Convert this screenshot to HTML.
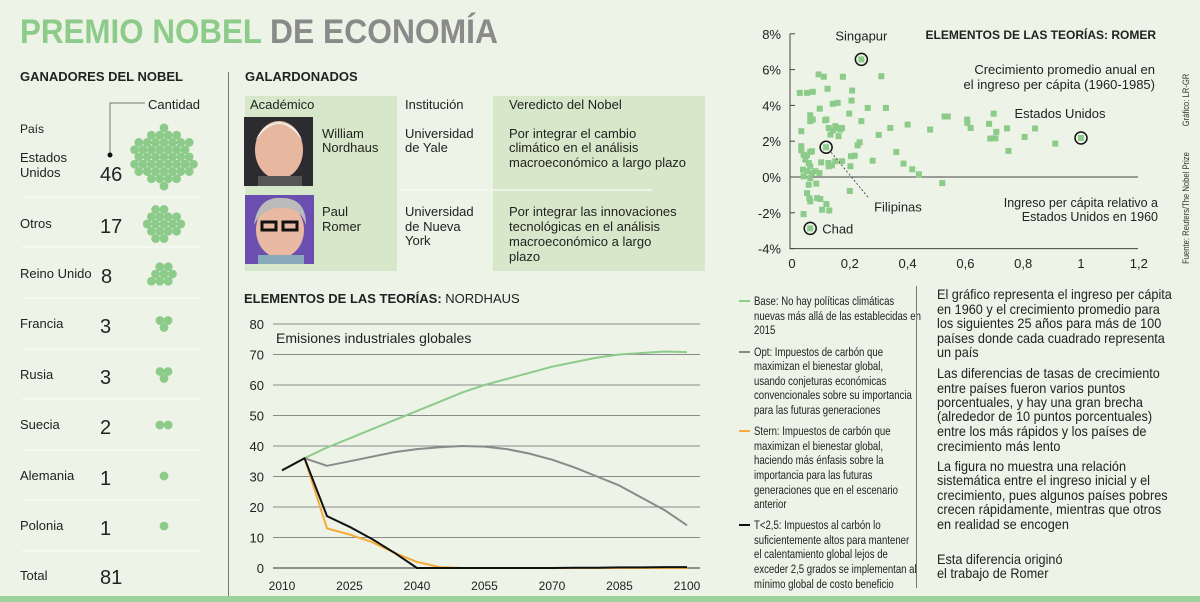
<!DOCTYPE html>
<html><head><meta charset="utf-8"><style>
html,body{margin:0;padding:0;background:#edf3e6;}
svg{display:block;font-family:"Liberation Sans",sans-serif;}
</style></head><body>
<svg id="root" width="1200" height="602" viewBox="0 0 1200 602" xmlns="http://www.w3.org/2000/svg">
<rect x="0" y="0" width="1200" height="602" fill="#edf3e6"/>
<g>
<text x="20" y="43" font-size="34" font-weight="bold" fill="#8dcb8b" textLength="242" lengthAdjust="spacingAndGlyphs">PREMIO NOBEL</text>
<text x="270" y="43" font-size="34" font-weight="bold" fill="#8a8a8a" textLength="228" lengthAdjust="spacingAndGlyphs">DE ECONOMÍA</text>
</g>
<rect x="0" y="596" width="1200" height="6" fill="#9ed29b"/>
<line x1="228.5" y1="72" x2="228.5" y2="596" stroke="#777" stroke-width="1"/>

<g id="winners">
<text x="20" y="81" font-size="13" font-weight="bold" fill="#222">GANADORES DEL NOBEL</text>
<text x="148" y="109" font-size="13" fill="#222">Cantidad</text>
<polyline points="110,155 110,103 145,103" fill="none" stroke="#777" stroke-width="1"/>
<circle cx="110" cy="155" r="2.5" fill="#111"/>
<text x="20" y="133" font-size="12" fill="#222">País</text>
</g>

<g>
<text x="245" y="81" font-size="13" font-weight="bold" fill="#222">GALARDONADOS</text>
<rect x="245" y="96" width="152" height="175" fill="#d6e8c9"/>
<rect x="493" y="96" width="212" height="175" fill="#d6e8c9"/>
<line x1="400" y1="190" x2="652" y2="190" stroke="#f4f8ef" stroke-width="1.5"/>
<g font-size="13" fill="#222">
<text x="250" y="109">Académico</text><text x="405" y="109">Institución</text><text x="509" y="109">Veredicto del Nobel</text>
<text x="322" y="138">William</text><text x="322" y="152">Nordhaus</text>
<text x="405" y="138">Universidad</text><text x="405" y="152">de Yale</text>
<text x="509" y="138">Por integrar el cambio</text><text x="509" y="152">climático en el análisis</text><text x="509" y="167">macroeconómico a largo plazo</text>
<text x="322" y="216">Paul</text><text x="322" y="231">Romer</text>
<text x="405" y="216">Universidad</text><text x="405" y="231">de Nueva</text><text x="405" y="245">York</text>
<text x="509" y="216">Por integrar las innovaciones</text><text x="509" y="231">tecnológicas en el análisis</text><text x="509" y="246">macroeconómico a largo</text><text x="509" y="261">plazo</text>
</g>
<g>
<rect x="244" y="117" width="69" height="69" fill="#2b2b30"/>
<ellipse cx="279" cy="150" rx="24" ry="29" fill="#e7b7a0"/>
<path d="M256 140 Q279 108 302 140 Q296 124 279 122 Q262 124 256 140Z" fill="#eeeeea"/>
<rect x="258" y="176" width="44" height="10" fill="#555"/>
</g>
<g>
<rect x="245" y="195" width="69" height="69" fill="#6a4fb0"/>
<ellipse cx="280" cy="230" rx="24" ry="28" fill="#e9b9a3"/>
<path d="M254 225 Q258 196 282 198 Q306 198 306 225 Q300 206 280 208 Q262 208 254 225Z" fill="#bbb"/>
<rect x="262" y="222" width="14" height="8" fill="none" stroke="#111" stroke-width="3"/>
<rect x="283" y="222" width="14" height="8" fill="none" stroke="#111" stroke-width="3"/>
<rect x="258" y="255" width="46" height="9" fill="#8ab"/>
</g>
</g>

<text x="244" y="303" font-size="13" font-weight="bold" fill="#222">ELEMENTOS DE LAS TEORÍAS: <tspan font-weight="normal">NORDHAUS</tspan></text>
<g id="lineChart"></g>
<text x="276" y="343" font-size="14" fill="#222">Emisiones industriales globales</text>

<g>
<line x1="739" y1="301" x2="750" y2="301" stroke="#8dcb8b" stroke-width="2"/>
<line x1="739" y1="352" x2="750" y2="352" stroke="#8a8a8a" stroke-width="2"/>
<line x1="739" y1="431" x2="750" y2="431" stroke="#f5ac3c" stroke-width="2"/>
<line x1="739" y1="525" x2="750" y2="525" stroke="#111" stroke-width="2"/>
<g transform="translate(754,0) scale(0.8,1)" font-size="12" fill="#222">
<text x="0" y="305">Base: No hay políticas climáticas</text><text x="0" y="320">nuevas más allá de las establecidas en</text><text x="0" y="334">2015</text>
<text x="0" y="356">Opt: Impuestos de carbón que</text><text x="0" y="370">maximizan el bienestar global,</text><text x="0" y="385">usando conjeturas económicas</text><text x="0" y="399">convencionales sobre su importancia</text><text x="0" y="414">para las futuras generaciones</text>
<text x="0" y="435">Stern: Impuestos de carbón que</text><text x="0" y="450">maximizan el bienestar global,</text><text x="0" y="464">haciendo más énfasis sobre la</text><text x="0" y="479">importancia para las futuras</text><text x="0" y="494">generaciones que en el escenario</text><text x="0" y="508">anterior</text>
<text x="0" y="529">T&lt;2,5: Impuestos al carbón lo</text><text x="0" y="544">suficientemente altos para mantener</text><text x="0" y="558">el calentamiento global lejos de</text><text x="0" y="573">exceder 2,5 grados se implementan al</text><text x="0" y="588">mínimo global de costo beneficio</text>
</g>
</g>
<line x1="916.5" y1="286" x2="916.5" y2="588" stroke="#777" stroke-width="1"/>

<g transform="translate(937,0) scale(0.92,1)" font-size="13.8" fill="#222">
<text x="0" y="299">El gráfico representa el ingreso per cápita</text><text x="0" y="314">en 1960 y el crecimiento promedio para</text><text x="0" y="328">los siguientes 25 años para más de 100</text><text x="0" y="343">países donde cada cuadrado representa</text><text x="0" y="357">un país</text>
<text x="0" y="378">Las diferencias de tasas de crecimiento</text><text x="0" y="393">entre países fueron varios puntos</text><text x="0" y="407">porcentuales, y hay una gran brecha</text><text x="0" y="421">(alrededor de 10 puntos porcentuales)</text><text x="0" y="436">entre los más rápidos y los países de</text><text x="0" y="451">crecimiento más lento</text>
<text x="0" y="471">La figura no muestra una relación</text><text x="0" y="485">sistemática entre el ingreso inicial y el</text><text x="0" y="500">crecimiento, pues algunos países pobres</text><text x="0" y="514">crecen rápidamente, mientras que otros</text><text x="0" y="529">en realidad se encogen</text>
<text x="0" y="564">Esta diferencia originó</text><text x="0" y="578">el trabajo de Romer</text>
</g>

<g id="scatter"></g>
<text x="1156" y="39" font-size="12" font-weight="bold" fill="#222" text-anchor="end">ELEMENTOS DE LAS TEORÍAS: ROMER</text>
<text x="1155" y="74" font-size="13" fill="#222" text-anchor="end">Crecimiento promedio anual en</text>
<text x="1155" y="89" font-size="13" fill="#222" text-anchor="end">el ingreso per cápita (1960-1985)</text>
<text x="1158" y="207" font-size="12.5" fill="#222" text-anchor="end">Ingreso per cápita relativo a</text>
<text x="1158" y="221" font-size="12.5" fill="#222" text-anchor="end">Estados Unidos en 1960</text>
<text transform="translate(1189,100) rotate(-90) scale(0.85,1)" font-size="9" fill="#333" text-anchor="middle">Gráfico: LR-GR</text>
<text transform="translate(1189,208) rotate(-90) scale(0.85,1)" font-size="9" fill="#333" text-anchor="middle">Fuente: Reuters/The Nobel Prize</text>

<script>
const countries = ["Estados Unidos","Otros","Reino Unido","Francia","Rusia","Suecia","Alemania","Polonia"];
const counts = [46,17,8,3,3,2,1,1];
const totalCount = 81;

const years = [2010,2015,2020,2025,2030,2035,2040,2045,2050,2055,2060,2065,2070,2075,2080,2085,2090,2095,2100];
const baseSeries = [null,36,39.5,42.5,45.5,48.5,51.5,54.5,57.5,60,62,64,66,67.5,69,70,70.5,71,70.8];
const optSeries = [null,36,33.5,35,36.5,38,39,39.6,40,39.8,39,37.5,35.5,33,30,27,23,19,14];
const sternSeries = [32,36,13,11,8.5,5,2,0.3,0,0,0,0,0,0,0,0,0,0,0];
const t25Series = [32,36,17,13.5,9.5,5,0,0,0,0,0,0,0,0.1,0.1,0.2,0.2,0.3,0.3];
const lineYTicks = [0,10,20,30,40,50,60,70,80];
const lineXTicks = [2010,2025,2040,2055,2070,2085,2100];

const incomeRel = [.027,.052,.072,.092,.110,.176,.309,.123,.208,.141,.158,.096,.115,.198,.206,.262,.325,.032,.063,.063,.072,.032,.032,.040,.052,.063,.069,.046,.058,.063,.038,.052,.069,.081,.095,.040,.063,.058,.084,.052,.060,.063,.087,.098,.040,.104,.119,.129,.119,.127,.133,.142,.150,.158,.161,.167,.173,.126,.101,.127,.138,.150,.173,.202,.204,.217,.227,.234,.240,.200,.279,.300,.340,.361,.386,.400,.416,.439,.478,.520,.528,.539,.606,.607,.618,.682,.686,.698,.704,.707,.744,.749,.805,.841,.911];
const growthPct = [4.70,4.70,4.76,5.73,5.60,5.60,5.63,4.93,4.83,4.09,4.14,3.82,3.17,3.54,4.27,3.86,3.86,2.56,3.45,3.12,3.21,1.72,1.49,1.25,1.21,1.40,1.44,.97,.78,.60,.41,.32,.22,.32,.22,.04,-.06,-.43,-.37,-.90,-1.18,-1.36,-1.18,-1.23,-2.07,-1.83,-1.51,-1.87,3.21,2.74,2.37,2.61,2.84,2.74,2.28,2.65,2.74,.78,.82,.60,.65,.88,.88,.60,1.16,1.19,1.77,1.94,3.12,-.78,.91,2.35,2.74,1.40,.75,2.93,.43,.15,2.65,-.34,3.38,3.38,3.21,3.02,2.74,2.97,2.15,3.54,2.16,2.52,2.72,1.46,2.24,2.71,1.87];
const highlightNames = ["Singapur","Estados Unidos","Filipinas","Chad"];
const highlightIncome = [.240,1.0,.118,.063];
const highlightGrowth = [6.57,2.18,1.66,-2.87];
const scatterYTicks = [-4,-2,0,2,4,6,8];
const scatterXTicks = [0,0.2,0.4,0.6,0.8,1,1.2];

const NS = "http://www.w3.org/2000/svg";
function mk(parent, tag, attrs, txt){
  const e = document.createElementNS(NS, tag);
  for (const k in attrs) e.setAttribute(k, attrs[k]);
  if (txt !== undefined) e.textContent = txt;
  parent.appendChild(e);
  return e;
}

(function(){
  const g = document.getElementById('winners');
  const rowY = [165,224,274,324,375,425,476,526];
  const divY = [197,247,298,349,399,450,500,551];
  const green = "#8dcb8b";
  countries.forEach((c,i)=>{
    const y = rowY[i];
    if (c === "Estados Unidos"){
      const a = mk(g,'text',{x:20,y:y-3,'font-size':13,fill:'#222'},'Estados');
      
      
      const b = mk(g,'text',{x:20,y:y+12,'font-size':13,fill:'#222'},'Unidos');
      
      
    } else {
      const a = mk(g,'text',{x:20,y:y+4,'font-size':13,fill:'#222'},c);
      
      
    }
    const n = mk(g,'text',{x:(i===2?101:100),y:y+(i===0?16:9),'font-size':20,fill:'#222'},String(counts[i]));
    
    
    const ln = mk(g,'line',{x1:22,y1:divY[i],x2:201,y2:divY[i],stroke:'#f7faf3','stroke-width':1.5});
    
    
    const cx = 164, cy = (i===0? y-8 : y);
    const s = 8.4, pts=[];
    for (let r=-6;r<=6;r++) for (let q=-6;q<=6;q++){
      const px = (q + r/2)*s, py = r*s*0.866;
      pts.push([px,py,px*px+py*py*1.02+q*0.01+r*0.001]);
    }
    pts.sort((a,b)=>a[2]-b[2]);
    let sel = pts.slice(0,counts[i]);
    if (counts[i]===2) sel=[[-4.2,0],[4.2,0]];
    if (counts[i]===3) sel=[[-4,-3.5],[4,-3.5],[0,3.5]];
    if (counts[i]===1) sel=[[0,0]];
    const cg = mk(g,'g',{});
    
    
    sel.forEach(p=>{
      const d = mk(cg,'circle',{cx:cx+p[0],cy:cy+p[1],r:4.4,fill:green});
      
      
    });
  });
  const t = mk(g,'text',{x:20,y:580,'font-size':13,fill:'#222'},'Total');
  
  
  const tn = mk(g,'text',{x:100,y:584,'font-size':20,fill:'#222'},String(totalCount));
  
  
})();

(function(){
  const g = document.getElementById('lineChart');
  const xL = yr => 282 + (yr-2010)*4.5;
  const yL = v => 568 - v*3.05;
  lineYTicks.forEach(v=>{
    const l = mk(g,'line',{x1:273,y1:yL(v),x2:700,y2:yL(v),stroke:v===0?'#555':'#8a8a8a','stroke-width':v===0?1.2:1});
    
    
    const t = mk(g,'text',{x:264,y:yL(v)+5,'font-size':13,fill:'#222','text-anchor':'end'},String(v));
    
    
  });
  lineXTicks.forEach(yr=>{
    const t = mk(g,'text',{x:xL(yr),y:590,'font-size':12,fill:'#222','text-anchor':'middle'},String(yr));
    
    
  });
  const series = [[baseSeries,'#8dcb8b','line-base'],[optSeries,'#8a8a8a','line-opt'],[sternSeries,'#f5ac3c','line-stern'],[t25Series,'#111','line-t25']];
  series.forEach(([s,c,name])=>{
    const pts=[];
    s.forEach((v,i)=>{ if(v!==null) pts.push(xL(years[i]).toFixed(1)+','+yL(v).toFixed(1)); });
    const p = mk(g,'polyline',{points:pts.join(' '),fill:'none',stroke:c,'stroke-width':2,'stroke-linejoin':'round'});
    
    
  });
})();

(function(){
  const g = document.getElementById('scatter');
  const xS = v => 792 + v*289;
  const yS = p => 177 - p*17.9;
  const ax = mk(g,'polyline',{points:`790,${yS(8)} 790,${yS(-4)} 1138,${yS(-4)}`,fill:'none',stroke:'#444','stroke-width':1});
  
  
  const z = mk(g,'line',{x1:790,y1:yS(0),x2:1138,y2:yS(0),stroke:'#444','stroke-width':1});
  
  
  scatterYTicks.forEach(v=>{
    const t = mk(g,'text',{x:781,y:yS(v)+5,'font-size':13,fill:'#222','text-anchor':'end'},v+'%');
    
    
    const tk = mk(g,'line',{x1:790,y1:yS(v),x2:795,y2:yS(v),stroke:'#444'});
    
    
  });
  scatterXTicks.forEach(v=>{
    const t = mk(g,'text',{x:xS(v),y:268,'font-size':13,fill:'#222','text-anchor':'middle'},String(v).replace('.',','));
    
    
  });
  incomeRel.forEach((v,i)=>{
    const r = mk(g,'rect',{x:xS(v)-3,y:yS(growthPct[i])-3,width:6,height:6,fill:'#8dcb8b'});
    
    
  });
  const labelPos = [[0,-19,'middle'],[-21,-20,'middle'],[48,64,'start'],[12,5,'start']];
  highlightNames.forEach((nm,i)=>{
    const cx = xS(highlightIncome[i]), cy = yS(highlightGrowth[i]);
    const r = mk(g,'rect',{x:cx-3,y:cy-3,width:6,height:6,fill:'#8dcb8b'});
    
    
    const c = mk(g,'circle',{cx:cx,cy:cy,r:6,fill:'none',stroke:'#111','stroke-width':1.5});
    
    
    const lp = labelPos[i];
    const t = mk(g,'text',{x:cx+lp[0],y:cy+lp[1],'font-size':13,fill:'#222','text-anchor':lp[2]},nm);
    
    
    if (nm==="Filipinas"){
      const l = mk(g,'line',{x1:cx+5,y1:cy+5,x2:cx+42,y2:cy+50,stroke:'#555','stroke-dasharray':'2,2'});
      
      
    }
  });
})();
</script>
</svg>
</body></html>
